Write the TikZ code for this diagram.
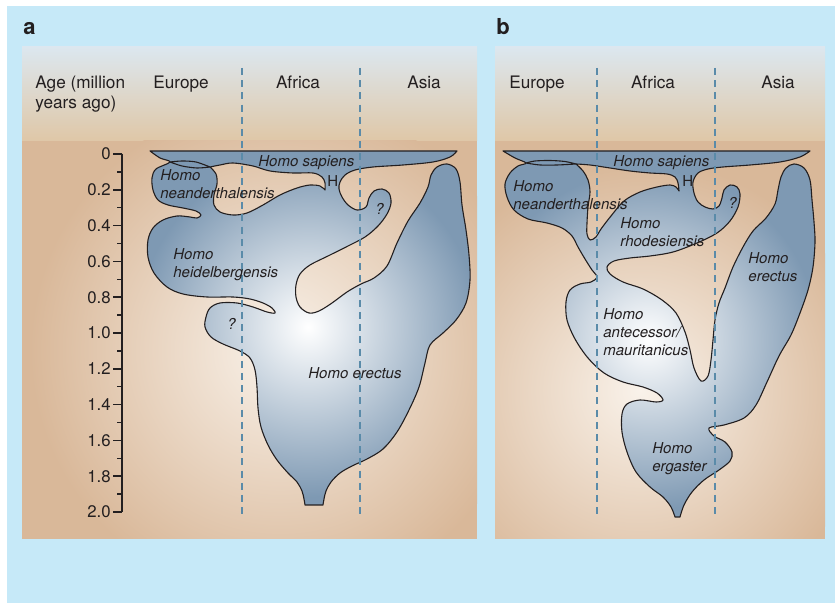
\documentclass[tikz,border=0pt]{standalone}
\usepackage{fontspec}
\setmainfont{TeX Gyre Heros}
\usetikzlibrary{calc}
\definecolor{pageBlue}{HTML}{C6E9F8}
\definecolor{hdrTop}{HTML}{DCE7EF}
\definecolor{hdrBot}{HTML}{DFC7A7}
\definecolor{sand}{HTML}{D9B899}
\definecolor{sandLight}{HTML}{F9F2EA}
\definecolor{steel}{HTML}{7E99B3}
\definecolor{divBlue}{HTML}{5A8BA9}
\definecolor{ink}{HTML}{231F20}
\tikzset{
  % outline of the lineage shapes
  outline/.style={draw=ink,line width=0.55pt,line join=round},
  % dashed continent divider
  divider/.style={draw=divBlue,line width=0.65pt,dash pattern=on 3.5pt off 2.6pt},
  % time axis
  axisline/.style={draw=ink,line width=0.75pt},
  % header labels
  hdr/.style={font=\fontsize{8.6}{10}\selectfont,text=ink,inner sep=0pt},
  % taxon names
  taxon/.style={font=\fontsize{7.5}{9}\selectfont\itshape,text=ink,
    inner sep=0pt,align=left,anchor=north west},
  % axis numbers
  agelbl/.style={font=\fontsize{8.4}{10}\selectfont,text=ink,inner sep=0pt,anchor=east},
  % panel letters
  panellbl/.style={font=\fontsize{11}{13}\selectfont\bfseries,text=ink,
    inner sep=0pt,anchor=south west},
  sandglow/.style={inner color=sandLight,outer color=sand},
  steelglow/.style={inner color=white,outer color=steel},
}
% panel a: sapiens band + all connected lineages
\newcommand\lineageA{(150,151) -- (457,151) -- plot[smooth,tension=.55] coordinates {
  (457,151) (450,157) (433,162) (403,165) (373,167) (355,170) (345,175) (340,182)
  (339,189) (342,197) (348,205) (357,210) (366,207) (369,198) (374,191) (382,189)
  (389,193) (391,203) (387,214) (378,226) (365,237) (348,246) (328,256) (310,265)
  (300,274) (296,285) (296,297) (300,307) (309,313) (319,311) (332,303) (347,292)
  (361,284) (374,278) (387,266) (397,243) (408,221) (420,203) (428,187) (431,175)
  (437,167) (447,164) (456,169) (460,182) (462,205) (466,230) (469,255) (470,280)
  (466,303) (456,320) (443,333) (430,345) (425,363) (419,387) (409,410) (397,432)
  (383,449) (367,459) (352,466) (340,473) (331,482) (326,491) (324,499) (323,505)}
  -- (305,505) -- plot[smooth,tension=.55] coordinates {
  (305,505) (304,499) (302,491) (297,482) (288,473) (277,460) (268,445) (261,427) (258,408)
  (257,387) (255,370) (250,358) (240,351) (223,344) (211,337) (205,327) (206,317)
  (210,308) (220,303) (237,303) (253,307) (267,312) (275,313) (272,308) (263,303)
  (250,299) (233,297) (207,297) (183,294) (167,287) (154,273) (148,257) (148,240)
  (153,228) (163,220) (177,216) (190,217) (197,218) (201,215) (196,211) (183,208)
  (168,205) (158,200) (153,190) (152,178) (156,169) (170,162) (160,158) (150,151)}
  -- cycle}
\newcommand\gapA{plot[smooth,tension=.55] coordinates {
  (210,167) (216,174) (217,184) (214,195) (214,205) (220,212) (233,215) (247,213)
  (263,205) (280,195) (297,188) (310,185) (320,186) (325,190)}
  -- plot[smooth,tension=.55] coordinates {
  (325,190) (325,183) (322,177) (313,173) (293,173) (270,171) (253,166) (233,163)
  (220,165) (210,167)} -- cycle}
\newcommand\lensA{plot[smooth] coordinates {(170,162) (182,166) (197,168) (210,167)}
  plot[smooth] coordinates {(170,162) (182,161) (196,162) (210,167)}}
% panel b
\newcommand\lineageB{(503,151) -- (810,151) -- plot[smooth,tension=.55] coordinates {
  (810,151) (800,157) (780,162) (750,165) (723,167) (708,169) (698,173) (693,182)
  (694,193) (698,202) (705,207) (713,209) (719,206) (722,198) (724,190) (730,185)
  (737,187) (740,194) (738,207) (730,221) (717,233) (697,243) (673,252) (650,256)
  (630,258) (614,261) (607,267) (610,274) (623,282) (643,289) (662,300) (676,313)
  (685,332) (690,350) (694,368) (701,381) (708,376) (711,360) (713,340) (715,320)
  (719,303) (725,288) (733,267) (743,247) (753,231) (766,218) (775,204) (778,190)
  (781,177) (786,168) (794,164) (804,168) (810,180) (812,200) (814,222) (815,242)
  (813,267) (808,290) (800,313) (791,335) (779,356) (767,382) (756,405) (744,418)
  (724,425) (709,428) (714,436) (725,442) (732,452) (730,461) (719,470) (704,480)
  (692,492) (684,505) (680,517)}
  -- (675,517) -- plot[smooth,tension=.55] coordinates {
  (675,517) (671,507) (663,497) (650,487) (636,472) (627,452) (622,432) (622,414)
  (627,404) (640,400) (656,402) (663,400) (657,393) (643,387) (623,382) (604,373)
  (588,358) (575,339) (567,320) (566,302) (570,290) (580,284) (591,282) (597,277)
  (592,270) (585,259) (578,247) (572,236) (562,228) (547,223) (528,219) (514,210)
  (507,197) (505,184) (510,173) (518,166) (526,163) (515,158) (503,151)}
  -- cycle}
\newcommand\gapB{plot[smooth,tension=.55] coordinates {
  (576,164) (583,171) (588,180) (590,192) (588,207) (587,223) (587,234) (590,240)
  (596,237) (601,229) (611,216) (624,201) (640,192) (657,187) (670,185) (676,187)
  (679,191)}
  -- plot[smooth,tension=.55] coordinates {
  (679,191) (678,183) (675,177) (667,174) (650,173) (630,171) (610,168) (590,165)
  (576,164)} -- cycle}
\newcommand\lensB{plot[smooth] coordinates {(526,163) (540,165) (557,165) (576,164)}
  plot[smooth] coordinates {(526,163) (535,161) (550,160.5) (565,161.5) (576,164)}}

\begin{document}
\begin{tikzpicture}[x=0.5pt,y=-0.5pt]
  \useasboundingbox (0,0) rectangle (835,603);
  \fill[white] (0,0) rectangle (835,603);
  \fill[pageBlue] (7,6) rectangle (835,603);

  % ---- panel a ----
  \node[panellbl] (tagA) at (23,35) {a};
  \shade[top color=hdrTop,bottom color=hdrBot] (22,47) rectangle (477,141);
  \begin{scope}
    \clip (22,141) rectangle (477,539);
    \fill[sand] (22,141) rectangle (477,539);
    \shade[sandglow] (280,350) circle[radius=125pt];
  \end{scope}
  \begin{scope}
    \clip \lineageA;
    \fill[steel] (22,141) rectangle (477,539);
    \shade[steelglow] (308,327) circle[radius=85pt];
  \end{scope}
  \begin{scope}
    \clip \gapA;
    \fill[sand] (22,141) rectangle (477,539);
    \shade[sandglow] (280,350) circle[radius=125pt];
  \end{scope}
  \draw[outline] \lineageA;
  \draw[outline] \gapA;
  \draw[outline] \lensA;
  \draw[divider] (242,68) -- (242,517);
  \draw[divider] (360,68) -- (360,517);

  \node[hdr,align=left,anchor=north west] (ageHdr) at (35,76) {Age (million\\years ago)};
  \node[hdr,anchor=north] (eurA) at (181,76) {Europe};
  \node[hdr,anchor=north] (afrA) at (298,76) {Africa};
  \node[hdr,anchor=north] (asiaA) at (424,76) {Asia};

  % time axis
  \draw[axisline] (122,153.6) -- (122,512);
  \foreach \k in {1,3,...,19}
    \draw[axisline] (117,154+17.9*\k) -- (122,154+17.9*\k);
  \foreach \lab [count=\n] in {0,0.2,0.4,0.6,0.8,1.0,1.2,1.4,1.6,1.8,2.0}{
    \draw[axisline] (113,154+179*\lab) -- (122,154+179*\lab);
    \node[agelbl] (age\n) at (111,154+179*\lab) {\lab};
  }

  \node[taxon] (sapA) at (258,155) {Homo sapiens};
  \node[taxon,font=\fontsize{7.5}{9}\selectfont] (hA) at (327,175) {H};
  \node[taxon] (neaA) at (160,169) {Homo\\neanderthalensis};
  \node[taxon] (qA1) at (375,203) {?};
  \node[taxon] (heiA) at (173,248) {Homo\\heidelbergensis};
  \node[taxon] (qA2) at (227,318) {?};
  \node[taxon] (ereA) at (308,367) {Homo erectus};

  % ---- panel b ----
  \node[panellbl] (tagB) at (496,35) {b};
  \shade[top color=hdrTop,bottom color=hdrBot] (495,47) rectangle (825,141);
  \begin{scope}
    \clip (495,141) rectangle (825,539);
    \fill[sand] (495,141) rectangle (825,539);
    \shade[sandglow] (640,390) circle[radius=115pt];
  \end{scope}
  \begin{scope}
    \clip \lineageB;
    \fill[steel] (495,141) rectangle (825,539);
    \shade[steelglow] (648,340) circle[radius=85pt];
  \end{scope}
  \begin{scope}
    \clip \gapB;
    \fill[sand] (495,141) rectangle (825,539);
    \shade[sandglow] (640,390) circle[radius=115pt];
  \end{scope}
  \draw[outline] \lineageB;
  \draw[outline] \gapB;
  \draw[outline] \lensB;
  \draw[divider] (597,68) -- (597,517);
  \draw[divider] (715,68) -- (715,517);

  \node[hdr,anchor=north] (eurB) at (537,76) {Europe};
  \node[hdr,anchor=north] (afrB) at (653,76) {Africa};
  \node[hdr,anchor=north] (asiaB) at (778,76) {Asia};

  \node[taxon] (sapB) at (613,155) {Homo sapiens};
  \node[taxon,font=\fontsize{7.5}{9}\selectfont] (hB) at (682,175) {H};
  \node[taxon] (neaB) at (513,180) {Homo\\neanderthalensis};
  \node[taxon] (qB) at (728,197) {?};
  \node[taxon] (rhoB) at (620,217) {Homo\\rhodesiensis};
  \node[taxon] (ereB) at (748,252) {Homo\\erectus};
  \node[taxon] (antB) at (603,308) {Homo\\antecessor/\\mauritanicus};
  \node[taxon] (ergB) at (652,442) {Homo\\ergaster};
\end{tikzpicture}
\end{document}
